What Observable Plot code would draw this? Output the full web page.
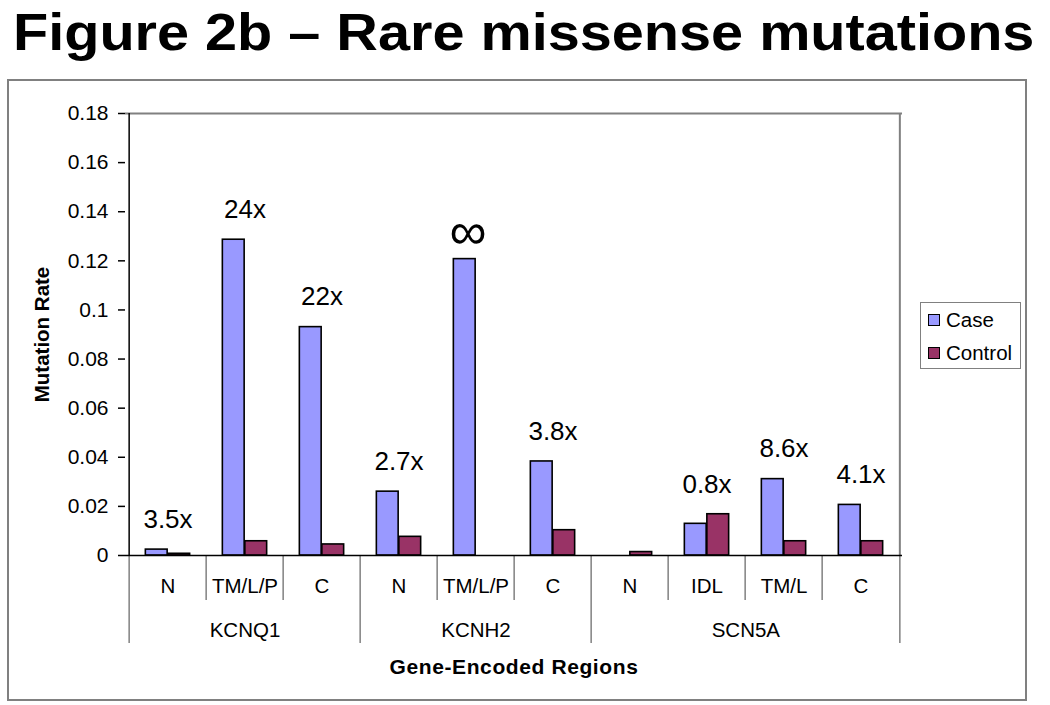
<!DOCTYPE html>
<html><head><meta charset="utf-8">
<script src="https://cdn.jsdelivr.net/npm/d3@7"></script>
<script src="https://cdn.jsdelivr.net/npm/@observablehq/plot@0.6"></script>
<style>
body{margin:0;background:#fff;font-family:"Liberation Sans",Arial,sans-serif;}
#page{position:relative;width:1050px;height:705px;overflow:hidden;background:#fff;}
#title{position:absolute;left:13px;top:2px;font-size:52px;font-weight:bold;line-height:60px;white-space:nowrap;color:#000;transform:scaleX(1.108);transform-origin:0 0;}
#chart{position:absolute;left:0;top:80px;}
#box{position:absolute;left:7px;top:79px;width:1020px;height:622px;border:2px solid #808080;box-sizing:border-box;pointer-events:none;}
#legend{position:absolute;left:920px;top:302px;width:101px;height:67px;border:1.5px solid #808080;box-sizing:border-box;font-size:20.5px;color:#000;}
.item{position:absolute;left:7px;height:24px;display:flex;align-items:center;}
.sw{width:10px;height:10px;border:1.5px solid #000;margin-right:6px;}
</style></head>
<body>
<div id="page">
  <div id="title">Figure 2b – Rare missense mutations</div>
  <div id="chart"></div>
  <div id="box"></div>
  <div id="legend"></div>
</div>
<script>
const genes = ["KCNQ1","KCNQ1","KCNQ1","KCNH2","KCNH2","KCNH2","SCN5A","SCN5A","SCN5A","SCN5A"];
const regions = ["N","TM/L/P","C","N","TM/L/P","C","N","IDL","TM/L","C"];
const caseRate = [0.0024,0.1286,0.0930,0.0260,0.1207,0.0383,0,0.0129,0.0311,0.0206];
const controlRate = [0.0007,0.0058,0.0045,0.0076,0,0.0103,0.0014,0.0168,0.0058,0.0058];
const ratioLabels = ["3.5x","24x","22x","2.7x","∞","3.8x","","0.8x","8.6x","4.1x"];
const yTicks = [0,0.02,0.04,0.06,0.08,0.1,0.12,0.14,0.16,0.18];
const seriesNames = ["Case","Control"];
const seriesColors = ["#9999FF","#993366"];

const keys = genes.map((g,i)=>g+"|"+regions[i]);
const rows = keys.map((k,i)=>({key:k, gene:genes[i], region:regions[i], caseV:caseRate[i], controlV:controlRate[i], label:ratioLabels[i]}));

const W=1050, H=625, mL=125, mR=148, mT=33, mB=150;
const plotH = H-mT-mB;
const bw = (W-mL-mR)/keys.length;
const barW = 22.5;
const grey = "#808080";

const isStart = (d,i)=> i===0 || genes[i]!==genes[i-1];
const uniqGenes = [...new Set(genes)];
const geneMarks = uniqGenes.map(g=>{
  const idx = genes.map((x,i)=>x===g?i:-1).filter(i=>i>=0);
  const n = idx.length;
  const k = n%2 ? keys[idx[(n-1)/2]] : keys[idx[n/2-1]];
  return Plot.text([g], {x: ()=>k, text: d=>d, frameAnchor:"bottom", textAnchor:"middle", lineAnchor:"bottom", dy:81, dx: n%2?0:bw/2, fontSize:20.5});
});
const pairTop = d=>Math.max(d.caseV,d.controlV);

const chart = Plot.plot({
  width:W, height:H, marginLeft:mL, marginRight:mR, marginTop:mT, marginBottom:mB,
  style:{fontFamily:"'Liberation Sans', Arial, sans-serif", fontSize:"20.5px", color:"#000", background:"none"},
  x:{type:"band", domain:keys, padding:0, axis:null},
  y:{domain:[0,0.18], axis:null},
  marks:[
    Plot.ruleY([0.18], {stroke:grey, strokeWidth:2}),
    Plot.ruleX([keys[keys.length-1]], {dx:bw/2, stroke:grey, strokeWidth:2}),
    Plot.barY(rows.filter(d=>d.caseV>0), {x:"key", y:"caseV", fill:seriesColors[0], stroke:"#000", strokeWidth:1.6, insetLeft:bw/2-barW, insetRight:bw/2}),
    Plot.barY(rows.filter(d=>d.controlV>0), {x:"key", y:"controlV", fill:seriesColors[1], stroke:"#000", strokeWidth:1.6, insetLeft:bw/2, insetRight:bw/2-barW}),
    Plot.ruleX(rows.filter((d,i)=>!isStart(d,i)), {x:"key", dx:-bw/2, insetTop:plotH, insetBottom:-45, stroke:grey, strokeWidth:1.5}),
    Plot.ruleX(rows.filter((d,i)=>isStart(d,i)), {x:"key", dx:-bw/2, insetTop:plotH, insetBottom:-88, stroke:grey, strokeWidth:1.5}),
    Plot.ruleX([keys[keys.length-1]], {dx:bw/2, insetTop:plotH, insetBottom:-88, stroke:grey, strokeWidth:1.5}),
    Plot.ruleY([0], {stroke:"#000", strokeWidth:1.5}),
    Plot.ruleX([keys[0]], {dx:-bw/2, stroke:"#000", strokeWidth:1.5}),
    Plot.axisY({ticks:yTicks, tickSize:7, tickPadding:10, tickFormat:d=>String(d), stroke:"#000", strokeWidth:1.5, fill:"#000", fontSize:21}),
    Plot.text(rows.filter(d=>d.label && d.label!=="∞"), {x:"key", y:pairTop, text:"label", fontSize:26, dy:-30, fill:"#000"}),
    Plot.text(rows.filter(d=>d.label==="∞"), {x:"key", y:pairTop, text:"label", fontSize:52, dy:-27, dx:-8, fill:"#000"}),
    Plot.text(rows, {x:"key", text:"region", frameAnchor:"bottom", textAnchor:"middle", lineAnchor:"bottom", dy:37, fontSize:20.5}),
    ...geneMarks,
    Plot.text(["Mutation Rate"], {frameAnchor:"left", textAnchor:"middle", lineAnchor:"middle", rotate:-90, dx:-83, fontWeight:"bold", fontSize:20.5}),
    Plot.text(["Gene-Encoded Regions"], {frameAnchor:"bottom", textAnchor:"middle", lineAnchor:"bottom", dy:118, fontWeight:"bold", fontSize:21})
  ]
});
d3.select(chart).selectAll("text").filter(function(){return this.textContent==="Gene-Encoded Regions";}).attr("letter-spacing","0.6");
document.getElementById("chart").appendChild(chart);

const legend = document.getElementById("legend");
seriesNames.forEach((s,i)=>{
  const it = document.createElement("div");
  it.className="item";
  it.style.top = (5 + i*33)+"px";
  const sw = document.createElement("div");
  sw.className="sw"; sw.style.background = seriesColors[i];
  const t = document.createElement("span"); t.textContent = s;
  it.appendChild(sw); it.appendChild(t);
  legend.appendChild(it);
});
</script>
</body></html>
